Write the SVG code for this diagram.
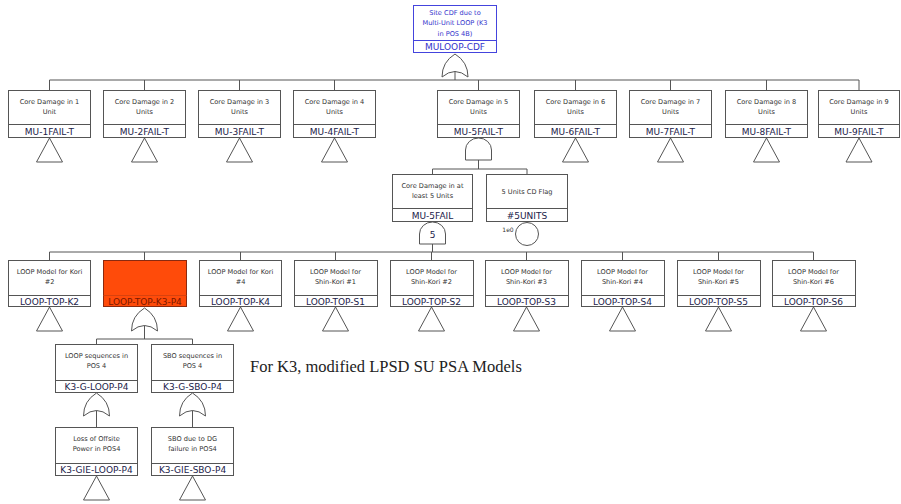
<svg xmlns="http://www.w3.org/2000/svg" width="901" height="504" viewBox="0 0 901 504">
  <style>
    .box { fill: #ffffff; stroke: #555555; stroke-width: 1; }
    .div { stroke: #555555; stroke-width: 1; }
    .desc { font-family: "DejaVu Sans", "Liberation Sans", sans-serif; font-size: 6.6px; fill: #333333; text-anchor: middle; }
    .id { font-family: "DejaVu Sans", "Liberation Sans", sans-serif; font-size: 9px; fill: #22224a; text-anchor: middle; }
    .gate { fill: #ffffff; stroke: #555555; stroke-width: 1; }
    .tri { fill: #ffffff; stroke: #555555; stroke-width: 1; }
    .wire { fill: none; stroke: #555555; stroke-width: 1; }
    .blue .box, .blue .div, .blue .gate { stroke: #4444dd; }
    .blue .desc, .blue .id { fill: #3333cc; }
    .hot .box { fill: #ff4b0a; stroke: #8a2a10; }
    .hot .div { stroke: #d8420e; }
    .hot .id { fill: #7a1800; }
    .note { font-family: "Liberation Serif", serif; font-size: 16.5px; fill: #222222; }
  </style>
  <defs>
    <!-- transfer triangle, apex at origin -->
    <path id="tri" class="tri" d="M0 0 L13 24 L-13 24 Z"/>
    <!-- OR gate, apex at origin -->
    <path id="or" class="gate" d="M-13 23 Q-13 8 0 0 Q13 8 13 23 Q0 12 -13 23 Z"/>
    <!-- AND gate, top at origin -->
    <path id="and" class="gate" d="M-13 22 L-13 12 A13 12 0 0 1 13 12 L13 22 Z"/>
  </defs>

  <!-- connectors -->
  <g id="connectors">
    <path class="wire" d="M455 70 V80 M49.5 80 H859
      M49.5 80 V90 M144.5 80 V90 M239.5 80 V90 M334.5 80 V90 M478.5 80 V90 M575.5 80 V90 M670.5 80 V90 M766.5 80 V90 M859 80 V90"/>
    <path class="wire" d="M478.5 160 V169 M432.5 169 H527 M432.5 169 V174 M527 169 V174"/>
    <path class="wire" d="M432.5 240 V252 M49.5 252 H813.5
      M49.5 252 V260 M144.5 252 V260 M240.5 252 V260 M335.5 252 V260 M431.5 252 V260 M526.5 252 V260 M622.5 252 V260 M718.5 252 V260 M813.5 252 V260"/>
    <path class="wire" d="M144.5 324 V339 M96.5 339 H192.5 M96.5 339 V344 M192.5 339 V344"/>
    <path class="wire" d="M96.5 409 V427 M192.5 409 V427"/>
  </g>

  <!-- top event -->
  <g id="MULOOP-CDF" class="blue">
    <rect class="box" x="413.5" y="5.5" width="83" height="47"/>
    <line class="div" x1="413.5" y1="40.5" x2="496.5" y2="40.5"/>
    <text class="desc" x="455" y="14.5">Site CDF due to</text>
    <text class="desc" x="455" y="25">Multi-Unit LOOP (K3</text>
    <text class="desc" x="455" y="35.5">in POS 4B)</text>
    <text class="id" x="455" y="49.5">MULOOP-CDF</text>
    <use href="#or" x="455" y="54"/>
  </g>

  <!-- core damage in N units -->
  <g id="MU-1FAIL-T">
    <rect class="box" x="8.5" y="90.5" width="82" height="47"/>
    <line class="div" x1="8.5" y1="124.5" x2="90.5" y2="124.5"/>
    <text class="desc" x="49.5" y="104">Core Damage in 1</text>
    <text class="desc" x="49.5" y="114">Unit</text>
    <text class="id" x="49.5" y="134.5">MU-1FAIL-T</text>
    <use href="#tri" x="49.5" y="138"/>
  </g>
  <g id="MU-2FAIL-T">
    <rect class="box" x="103.5" y="90.5" width="82" height="47"/>
    <line class="div" x1="103.5" y1="124.5" x2="185.5" y2="124.5"/>
    <text class="desc" x="144.5" y="104">Core Damage in 2</text>
    <text class="desc" x="144.5" y="114">Units</text>
    <text class="id" x="144.5" y="134.5">MU-2FAIL-T</text>
    <use href="#tri" x="144.5" y="138"/>
  </g>
  <g id="MU-3FAIL-T">
    <rect class="box" x="198.5" y="90.5" width="82" height="47"/>
    <line class="div" x1="198.5" y1="124.5" x2="280.5" y2="124.5"/>
    <text class="desc" x="239.5" y="104">Core Damage in 3</text>
    <text class="desc" x="239.5" y="114">Units</text>
    <text class="id" x="239.5" y="134.5">MU-3FAIL-T</text>
    <use href="#tri" x="239.5" y="138"/>
  </g>
  <g id="MU-4FAIL-T">
    <rect class="box" x="293.5" y="90.5" width="82" height="47"/>
    <line class="div" x1="293.5" y1="124.5" x2="375.5" y2="124.5"/>
    <text class="desc" x="334.5" y="104">Core Damage in 4</text>
    <text class="desc" x="334.5" y="114">Units</text>
    <text class="id" x="334.5" y="134.5">MU-4FAIL-T</text>
    <use href="#tri" x="334.5" y="138"/>
  </g>
  <g id="MU-5FAIL-T">
    <rect class="box" x="437.5" y="90.5" width="82" height="47"/>
    <line class="div" x1="437.5" y1="124.5" x2="519.5" y2="124.5"/>
    <text class="desc" x="478.5" y="104">Core Damage in 5</text>
    <text class="desc" x="478.5" y="114">Units</text>
    <text class="id" x="478.5" y="134.5">MU-5FAIL-T</text>
    <use href="#and" x="478.5" y="138"/>
  </g>
  <g id="MU-6FAIL-T">
    <rect class="box" x="534.5" y="90.5" width="82" height="47"/>
    <line class="div" x1="534.5" y1="124.5" x2="616.5" y2="124.5"/>
    <text class="desc" x="575.5" y="104">Core Damage in 6</text>
    <text class="desc" x="575.5" y="114">Units</text>
    <text class="id" x="575.5" y="134.5">MU-6FAIL-T</text>
    <use href="#tri" x="575.5" y="138"/>
  </g>
  <g id="MU-7FAIL-T">
    <rect class="box" x="629.5" y="90.5" width="82" height="47"/>
    <line class="div" x1="629.5" y1="124.5" x2="711.5" y2="124.5"/>
    <text class="desc" x="670.5" y="104">Core Damage in 7</text>
    <text class="desc" x="670.5" y="114">Units</text>
    <text class="id" x="670.5" y="134.5">MU-7FAIL-T</text>
    <use href="#tri" x="670.5" y="138"/>
  </g>
  <g id="MU-8FAIL-T">
    <rect class="box" x="725.5" y="90.5" width="82" height="47"/>
    <line class="div" x1="725.5" y1="124.5" x2="807.5" y2="124.5"/>
    <text class="desc" x="766.5" y="104">Core Damage in 8</text>
    <text class="desc" x="766.5" y="114">Units</text>
    <text class="id" x="766.5" y="134.5">MU-8FAIL-T</text>
    <use href="#tri" x="766.5" y="138"/>
  </g>
  <g id="MU-9FAIL-T">
    <rect class="box" x="818.5" y="90.5" width="81" height="47"/>
    <line class="div" x1="818.5" y1="124.5" x2="899.5" y2="124.5"/>
    <text class="desc" x="859" y="104">Core Damage in 9</text>
    <text class="desc" x="859" y="114">Units</text>
    <text class="id" x="859" y="134.5">MU-9FAIL-T</text>
    <use href="#tri" x="859" y="138"/>
  </g>

  <!-- at least 5 units -->
  <g id="MU-5FAIL">
    <rect class="box" x="392.5" y="174.5" width="80" height="47"/>
    <line class="div" x1="392.5" y1="208.5" x2="472.5" y2="208.5"/>
    <text class="desc" x="432.5" y="188">Core Damage in at</text>
    <text class="desc" x="432.5" y="198">least 5 Units</text>
    <text class="id" x="432.5" y="218.5">MU-5FAIL</text>
    <use href="#and" x="432.5" y="222"/>
    <text class="id" x="432.5" y="238">5</text>
  </g>
  <g id="5UNITS">
    <rect class="box" x="486.5" y="174.5" width="81" height="47"/>
    <line class="div" x1="486.5" y1="208.5" x2="567.5" y2="208.5"/>
    <text class="desc" x="527" y="193.5">5 Units CD Flag</text>
    <text class="id" x="527" y="218.5">#5UNITS</text>
    <circle class="gate" cx="527" cy="234" r="11.5"/>
    <text class="desc" x="508" y="232" style="font-size:6px">1e0</text>
  </g>

  <!-- LOOP models per unit -->
  <g id="LOOP-TOP-K2">
    <rect class="box" x="8.5" y="260.5" width="82" height="46"/>
    <line class="div" x1="8.5" y1="295.5" x2="90.5" y2="295.5"/>
    <text class="desc" x="49.5" y="274">LOOP Model for Kori</text>
    <text class="desc" x="49.5" y="284">#2</text>
    <text class="id" x="49.5" y="304.5">LOOP-TOP-K2</text>
    <use href="#tri" x="49.5" y="307"/>
  </g>
  <g id="LOOP-TOP-K3-P4" class="hot">
    <rect class="box" x="103.5" y="260.5" width="83" height="46"/>
    <line class="div" x1="103.5" y1="295.5" x2="186.5" y2="295.5"/>
    <text class="id" x="145" y="304.5">LOOP-TOP-K3-P4</text>
    <use href="#or" x="144.5" y="308"/>
  </g>
  <g id="LOOP-TOP-K4">
    <rect class="box" x="199.5" y="260.5" width="82" height="46"/>
    <line class="div" x1="199.5" y1="295.5" x2="281.5" y2="295.5"/>
    <text class="desc" x="240.5" y="274">LOOP Model for Kori</text>
    <text class="desc" x="240.5" y="284">#4</text>
    <text class="id" x="240.5" y="304.5">LOOP-TOP-K4</text>
    <use href="#tri" x="240.5" y="307"/>
  </g>
  <g id="LOOP-TOP-S1">
    <rect class="box" x="294.5" y="260.5" width="83" height="46"/>
    <line class="div" x1="294.5" y1="295.5" x2="377.5" y2="295.5"/>
    <text class="desc" x="335.5" y="274">LOOP Model for</text>
    <text class="desc" x="335.5" y="284">Shin-Kori #1</text>
    <text class="id" x="335.5" y="304.5">LOOP-TOP-S1</text>
    <use href="#tri" x="335.5" y="307"/>
  </g>
  <g id="LOOP-TOP-S2">
    <rect class="box" x="390.5" y="260.5" width="83" height="46"/>
    <line class="div" x1="390.5" y1="295.5" x2="473.5" y2="295.5"/>
    <text class="desc" x="431.5" y="274">LOOP Model for</text>
    <text class="desc" x="431.5" y="284">Shin-Kori #2</text>
    <text class="id" x="431.5" y="304.5">LOOP-TOP-S2</text>
    <use href="#tri" x="431.5" y="307"/>
  </g>
  <g id="LOOP-TOP-S3">
    <rect class="box" x="485.5" y="260.5" width="83" height="46"/>
    <line class="div" x1="485.5" y1="295.5" x2="568.5" y2="295.5"/>
    <text class="desc" x="526.5" y="274">LOOP Model for</text>
    <text class="desc" x="526.5" y="284">Shin-Kori #3</text>
    <text class="id" x="526.5" y="304.5">LOOP-TOP-S3</text>
    <use href="#tri" x="526.5" y="307"/>
  </g>
  <g id="LOOP-TOP-S4">
    <rect class="box" x="581.5" y="260.5" width="83" height="46"/>
    <line class="div" x1="581.5" y1="295.5" x2="664.5" y2="295.5"/>
    <text class="desc" x="622.5" y="274">LOOP Model for</text>
    <text class="desc" x="622.5" y="284">Shin-Kori #4</text>
    <text class="id" x="622.5" y="304.5">LOOP-TOP-S4</text>
    <use href="#tri" x="622.5" y="307"/>
  </g>
  <g id="LOOP-TOP-S5">
    <rect class="box" x="677.5" y="260.5" width="83" height="46"/>
    <line class="div" x1="677.5" y1="295.5" x2="760.5" y2="295.5"/>
    <text class="desc" x="718.5" y="274">LOOP Model for</text>
    <text class="desc" x="718.5" y="284">Shin-Kori #5</text>
    <text class="id" x="718.5" y="304.5">LOOP-TOP-S5</text>
    <use href="#tri" x="718.5" y="307"/>
  </g>
  <g id="LOOP-TOP-S6">
    <rect class="box" x="772.5" y="260.5" width="83" height="46"/>
    <line class="div" x1="772.5" y1="295.5" x2="855.5" y2="295.5"/>
    <text class="desc" x="813.5" y="274">LOOP Model for</text>
    <text class="desc" x="813.5" y="284">Shin-Kori #6</text>
    <text class="id" x="813.5" y="304.5">LOOP-TOP-S6</text>
    <use href="#tri" x="813.5" y="307"/>
  </g>

  <!-- K3 POS 4 sequences -->
  <g id="K3-G-LOOP-P4">
    <rect class="box" x="55.5" y="344.5" width="82" height="48"/>
    <line class="div" x1="55.5" y1="380.5" x2="137.5" y2="380.5"/>
    <text class="desc" x="96.5" y="358">LOOP sequences in</text>
    <text class="desc" x="96.5" y="368">POS 4</text>
    <text class="id" x="96.5" y="390">K3-G-LOOP-P4</text>
    <use href="#or" x="96.5" y="393"/>
  </g>
  <g id="K3-G-SBO-P4">
    <rect class="box" x="151.5" y="344.5" width="82" height="48"/>
    <line class="div" x1="151.5" y1="380.5" x2="233.5" y2="380.5"/>
    <text class="desc" x="192.5" y="358">SBO sequences in</text>
    <text class="desc" x="192.5" y="368">POS 4</text>
    <text class="id" x="192.5" y="390">K3-G-SBO-P4</text>
    <use href="#or" x="192.5" y="393"/>
  </g>
  <g id="K3-GIE-LOOP-P4">
    <rect class="box" x="55.5" y="427.5" width="82" height="48"/>
    <line class="div" x1="55.5" y1="463.5" x2="137.5" y2="463.5"/>
    <text class="desc" x="96.5" y="441">Loss of Offsite</text>
    <text class="desc" x="96.5" y="451">Power in POS4</text>
    <text class="id" x="96.5" y="473">K3-GIE-LOOP-P4</text>
    <use href="#tri" x="96.5" y="476"/>
  </g>
  <g id="K3-GIE-SBO-P4">
    <rect class="box" x="151.5" y="427.5" width="82" height="48"/>
    <line class="div" x1="151.5" y1="463.5" x2="233.5" y2="463.5"/>
    <text class="desc" x="192.5" y="441">SBO due to DG</text>
    <text class="desc" x="192.5" y="451">failure in POS4</text>
    <text class="id" x="192.5" y="473">K3-GIE-SBO-P4</text>
    <use href="#tri" x="192.5" y="476"/>
  </g>

  <text class="note" x="250" y="372">For K3, modified LPSD SU PSA Models</text>
</svg>
